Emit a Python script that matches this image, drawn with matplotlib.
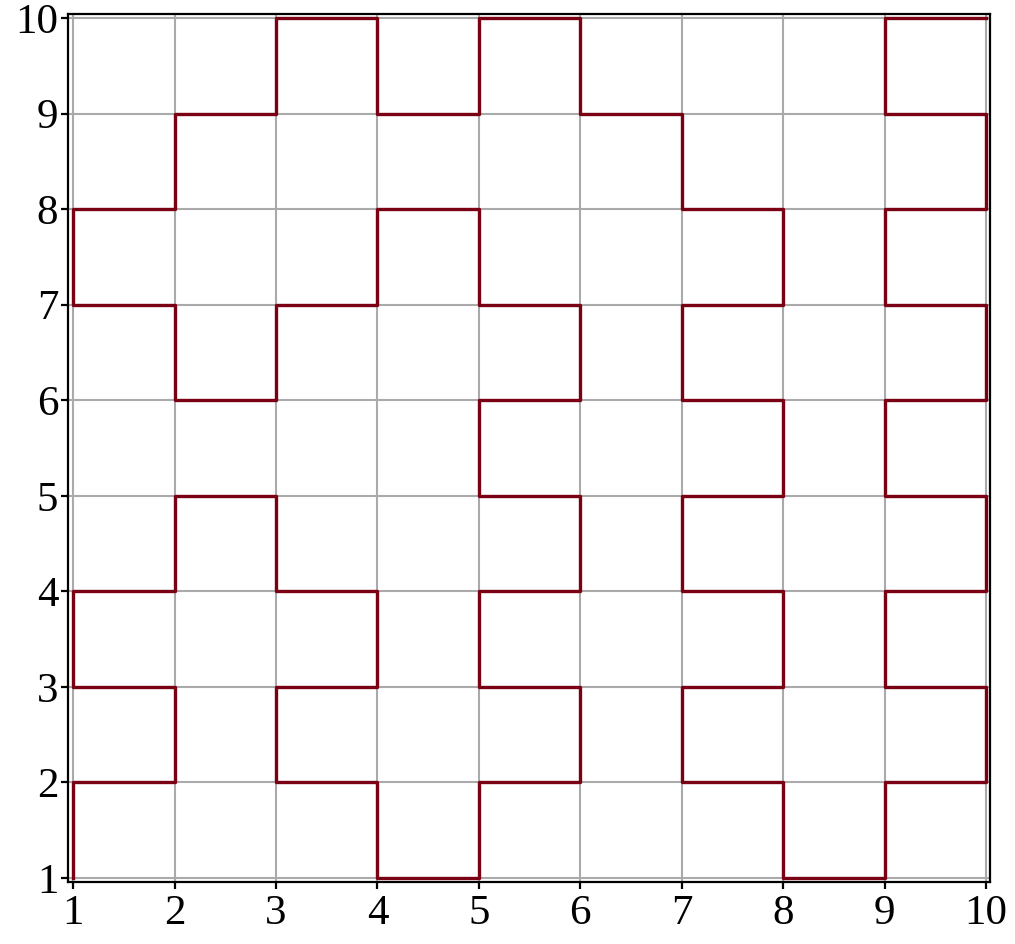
import matplotlib
matplotlib.use("Agg")
import matplotlib.pyplot as plt

# path vertices
xs = [1, 1, 2, 2, 1, 1, 2, 2, 3, 3, 4, 4, 3, 3, 4, 4, 5, 5, 6, 6, 5, 5, 6, 6, 5, 5, 6, 6, 5, 5,
      4, 4, 3, 3, 2, 2, 1, 1, 2, 2, 3, 3, 4, 4, 5, 5, 6, 6, 7, 7, 8, 8, 7, 7, 8, 8, 7, 7, 8, 8,
      7, 7, 8, 8, 9, 9, 10, 10, 9, 9, 10, 10, 9, 9, 10, 10, 9, 9, 10, 10, 9, 9, 10]
ys = [1, 2, 2, 3, 3, 4, 4, 5, 5, 4, 4, 3, 3, 2, 2, 1, 1, 2, 2, 3, 3, 4, 4, 5, 5, 6, 6, 7, 7, 8,
      8, 7, 7, 6, 6, 7, 7, 8, 8, 9, 9, 10, 10, 9, 9, 10, 10, 9, 9, 8, 8, 7, 7, 6, 6, 5, 5, 4, 4, 3,
      3, 2, 2, 1, 1, 2, 2, 3, 3, 4, 4, 5, 5, 6, 6, 7, 7, 8, 8, 9, 9, 10, 10]
ticks = list(range(1, 11))

plt.rcParams['font.family'] = ['Liberation Serif', 'DejaVu Serif']

fig = plt.figure(figsize=(10.15, 9.44), dpi=100)
ax = fig.add_axes([0.067, 0.0657, 0.9084, 0.9195])
ax.plot(xs, ys, color='#7a0014', linewidth=2.4, zorder=3)

ax.set_xlim(0.95, 10.04)
ax.set_ylim(0.958, 10.042)
ax.set_xticks(ticks)
ax.set_yticks(ticks)
ax.grid(True, color='#aaaaaa', linewidth=1.5)
ax.set_axisbelow(True)
for s in ax.spines.values():
    s.set_linewidth(1.6)
    s.set_color('black')
ax.tick_params(direction='out', length=5, width=1.6, labelsize=31)
ax.tick_params(axis='x', pad=4)
ax.tick_params(axis='y', pad=2)

plt.savefig("out.png", dpi=100)
